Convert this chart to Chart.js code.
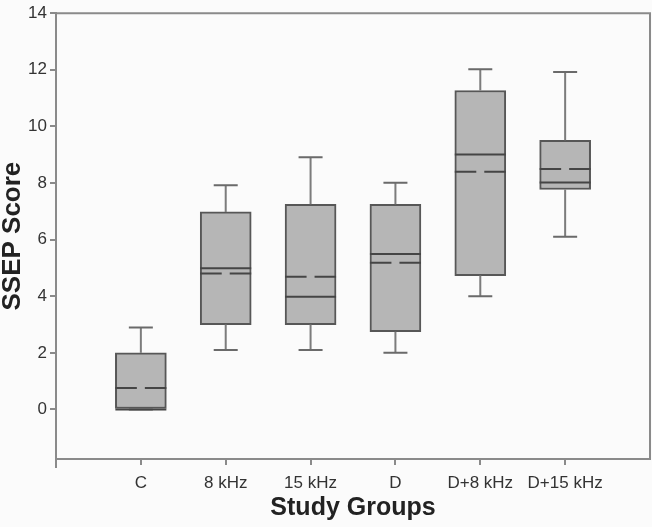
<!DOCTYPE html>
<html>
<head>
<meta charset="utf-8">
<script src="https://cdn.jsdelivr.net/npm/chart.js@4"></script>
<style>
  html, body { margin: 0; padding: 0; background: #fbfbfb; }
  #wrap { width: 652px; height: 527px; }
</style>
</head>
<body>
<div id="wrap"><canvas id="chart"></canvas></div>
<script>
// SSEP scores per study group (box plot)
const groups = ["C", "8 kHz", "15 kHz", "D", "D+8 kHz", "D+15 kHz"];
const whiskerLow  = [0.0, 2.1, 2.1, 2.0, 4.0, 6.1];
const q1          = [0.0, 3.0, 3.0, 2.75, 4.73, 7.77];
const median      = [0.0, 4.99, 3.98, 5.49, 9.01, 8.02];
const mean        = [0.76, 4.80, 4.69, 5.18, 8.40, 8.50];
const q3          = [2.0, 6.98, 7.25, 7.25, 11.27, 9.51];
const whiskerHigh = [2.9, 7.92, 8.91, 8.01, 12.02, 11.92];
const yTicks = [0, 2, 4, 6, 8, 10, 12, 14];

const BOX_W = 51;
const CAP_W = 24;
const AXIS_COLOR = "#8a8a8a";

// whiskers, medians, means and the top/right frame
const boxExtras = {
  id: "boxExtras",
  afterDatasetsDraw(chart) {
    const ctx = chart.ctx;
    const x = chart.scales.x, y = chart.scales.y;
    ctx.save();
    groups.forEach((g, i) => {
      const cx = x.getPixelForValue(i + 1);
      const left = cx - BOX_W / 2, right = cx + BOX_W / 2;

      // whiskers
      ctx.strokeStyle = "#7c7c7c";
      ctx.lineWidth = 2;
      ctx.beginPath();
      ctx.moveTo(cx, y.getPixelForValue(q3[i]));
      ctx.lineTo(cx, y.getPixelForValue(whiskerHigh[i]));
      ctx.moveTo(cx, y.getPixelForValue(q1[i]));
      ctx.lineTo(cx, y.getPixelForValue(whiskerLow[i]));
      ctx.stroke();
      ctx.strokeStyle = "#6a6a6a";
      ctx.beginPath();
      [whiskerHigh[i], whiskerLow[i]].forEach(v => {
        const py = y.getPixelForValue(v);
        ctx.moveTo(cx - CAP_W / 2, py);
        ctx.lineTo(cx + CAP_W / 2, py);
      });
      ctx.stroke();

      // median (solid)
      ctx.strokeStyle = "#454545";
      ctx.lineWidth = 2;
      let py = y.getPixelForValue(median[i]);
      ctx.beginPath();
      ctx.moveTo(left, py);
      ctx.lineTo(right, py);
      ctx.stroke();

      // mean (split line)
      py = y.getPixelForValue(mean[i]);
      ctx.beginPath();
      ctx.moveTo(left, py);
      ctx.lineTo(cx - 4, py);
      ctx.moveTo(cx + 4, py);
      ctx.lineTo(right, py);
      ctx.stroke();
    });

    // frame
    const a = chart.chartArea;
    ctx.strokeStyle = AXIS_COLOR;
    ctx.lineWidth = 2;
    ctx.beginPath();
    ctx.moveTo(a.left, a.top);
    ctx.lineTo(a.right, a.top);
    ctx.lineTo(a.right, a.bottom);
    ctx.moveTo(a.left, a.bottom);
    ctx.lineTo(a.left, a.bottom + 9);
    ctx.stroke();
    ctx.restore();
  }
};

new Chart(document.getElementById("chart"), {
  type: "bar",
  data: {
    datasets: [{
      data: groups.map((g, i) => ({ x: i + 1, y: [q1[i], q3[i]] })),
      backgroundColor: "#b6b6b6",
      borderColor: "#575757",
      borderWidth: 2,
      borderSkipped: false,
      barThickness: BOX_W
    }]
  },
  options: {
    responsive: true,
    maintainAspectRatio: false,
    animation: false,
    layout: { padding: { top: 8, right: 2, left: 0, bottom: 0 } },
    plugins: { legend: { display: false }, tooltip: { enabled: false } },
    scales: {
      x: {
        type: "linear",
        min: 0,
        max: 7,
        offset: false,
        afterBuildTicks: s => { s.ticks = groups.map((g, i) => ({ value: i + 1 })); },
        afterFit: s => { s.height = 68; },
        ticks: {
          callback: v => groups[v - 1] || "",
          font: { family: "Liberation Sans", size: 17 },
          color: "#333",
          padding: 8,
          maxRotation: 0,
          autoSkip: false
        },
        grid: { offset: false, drawOnChartArea: false, drawTicks: true, tickLength: 6, color: AXIS_COLOR, lineWidth: 2 },
        border: { color: AXIS_COLOR, width: 2 },
        title: {
          display: true,
          text: "Study Groups",
          font: { family: "Liberation Sans", size: 25, weight: "bold" },
          color: "#222",
          padding: { top: 0, bottom: 4 }
        }
      },
      y: {
        min: -1.75,
        max: 14,
        afterBuildTicks: s => { s.ticks = yTicks.map(v => ({ value: v })); },
        afterFit: s => { s.width = 56; },
        ticks: {
          font: { family: "Liberation Sans", size: 17 },
          color: "#333",
          padding: 3
        },
        grid: { drawOnChartArea: false, drawTicks: true, tickLength: 6, color: AXIS_COLOR, lineWidth: 2 },
        border: { color: AXIS_COLOR, width: 2 },
        title: {
          display: true,
          text: "SSEP Score",
          font: { family: "Liberation Sans", size: 26, weight: "bold", lineHeight: 1 },
          color: "#222",
          padding: 0
        }
      }
    }
  },
  plugins: [boxExtras]
});
</script>
</body>
</html>
